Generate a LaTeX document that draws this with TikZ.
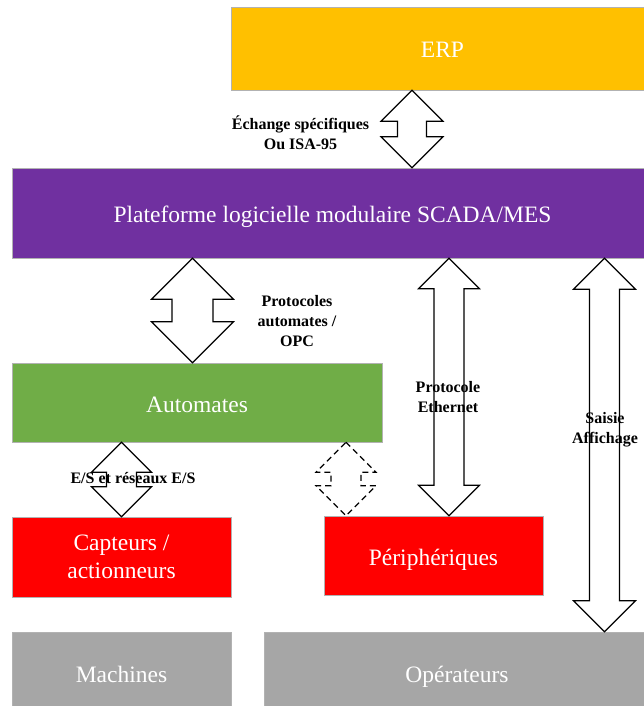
\documentclass[tikz,border=0pt]{standalone}
\usepackage{fontspec}
\setmainfont{Liberation Serif}
\usetikzlibrary{calc}
\definecolor{erpfill}{HTML}{FFC000}
\definecolor{scadafill}{HTML}{7030A0}
\definecolor{autofill}{HTML}{70AD47}
\definecolor{devfill}{HTML}{FF0000}
\definecolor{basefill}{HTML}{A6A6A6}
\begin{document}
\begin{tikzpicture}[x=1pt, y=-1pt,
  box/.style={inner sep=0pt, align=center, text=white, draw=gray!60, line width=0.4pt,
    font=\fontsize{23.5}{28}\selectfont},
  oneline/.style={text height=22pt, text depth=3pt},
  lab/.style={inner sep=0pt, align=center, font=\fontsize{16}{20}\selectfont\bfseries},
  % double block arrow, #1 = half width of the heads, #2 = half width of the shaft
  dbl/.style 2 args={draw=black, line width=1.2pt, line join=miter,
    to path={let \p1=(\tikztostart), \p2=(\tikztotarget) in
      (\x1,\y1) -- ({\x1+#1},{\y1-#1}) -- ({\x1+#2},{\y1-#1}) -- ({\x1+#2},{\y2+#1})
      -- ({\x1+#1},{\y2+#1}) -- (\x1,\y2) -- ({\x1-#1},{\y2+#1}) -- ({\x1-#2},{\y2+#1})
      -- ({\x1-#2},{\y1-#1}) -- ({\x1-#1},{\y1-#1}) -- cycle}},
]
\path[use as bounding box, clip] (0,0) rectangle (644,706);
\node[box, oneline, fill=erpfill, minimum width=423pt, minimum height=83pt] (erp) at (442.5,48.5) {ERP};
\node[box, oneline, fill=scadafill, minimum width=641pt, minimum height=90pt] (scada) at (332.5,213) {Plateforme logicielle modulaire SCADA/MES};
\node[box, oneline, fill=autofill, minimum width=370pt, minimum height=79pt] (autom) at (197,402.5) {Automates};
\node[box, fill=devfill, minimum width=219pt, minimum height=80pt] (capt) at (121.5,557) {Capteurs /\\actionneurs};
\node[box, oneline, fill=devfill, minimum width=219pt, minimum height=79pt] (periph) at (433.5,555.5) {Périphériques};
\node[box, oneline, fill=basefill, minimum width=219pt, minimum height=81pt] (mach) at (121.5,672.5) {Machines};
\node[box, oneline, fill=basefill, minimum width=386pt, minimum height=81pt] (oper) at (457,672.5) {Opérateurs};

\draw[dbl={31pt}{14.5pt}] ([xshift=-30.5pt]erp.south) to (scada.north);
\draw[dbl={41pt}{20.5pt}] ([xshift=-140pt]scada.south) to (autom.north);
\draw[dbl={30.5pt}{15pt}] ([xshift=116.5pt]scada.south) to (periph.north);
\draw[dbl={31pt}{15pt}] ([xshift=272pt]scada.south) to (oper.north);
\draw[dbl={30pt}{15pt}] (autom.south -| capt.north) to (capt.north);
\draw[dbl={30pt}{15pt}, dash pattern=on 6pt off 4pt] ([xshift=149pt]autom.south) to (periph.north);

\node[lab] (isa) at (300.5,133) {Échange spécifiques\\Ou ISA-95};
\node[lab] (opc) at (297,321) {Protocoles\\automates /\\OPC};
\node[lab] (eth) at (448,397) {Protocole\\Ethernet};
\node[lab] (saisie) at (605,430) {Saisie\\Affichage};
\node[lab] (es) at (133,478) {E/S et réseaux E/S};
\end{tikzpicture}
\end{document}
